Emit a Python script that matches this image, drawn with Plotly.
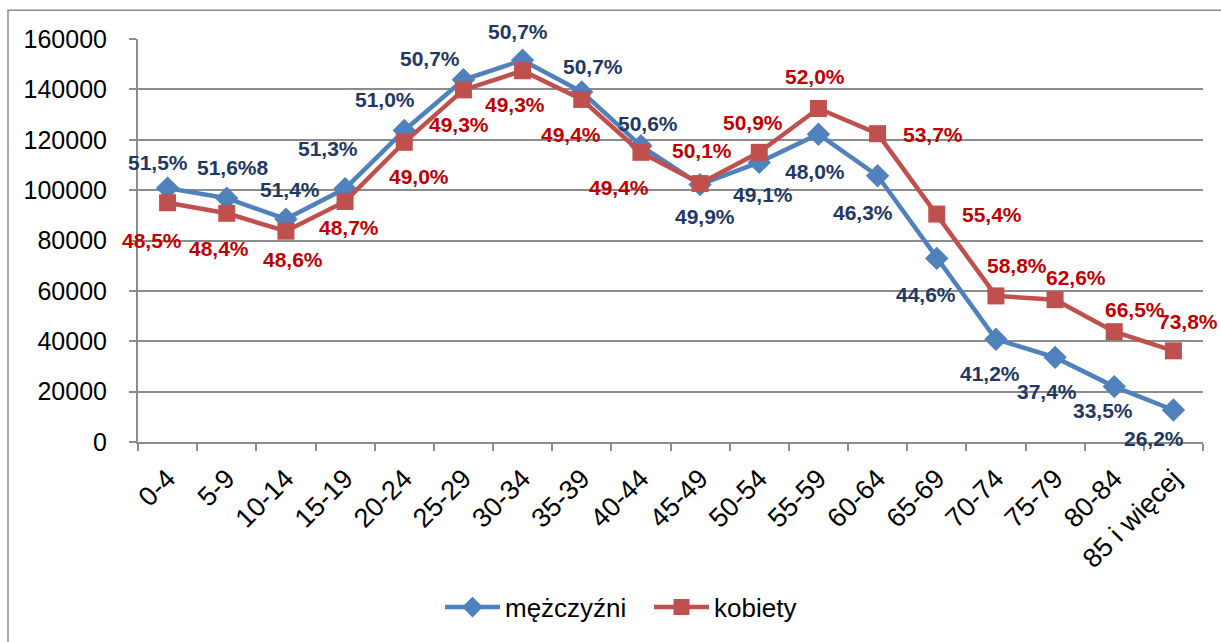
import plotly.graph_objects as go

categories = ["0-4", "5-9", "10-14", "15-19", "20-24", "25-29", "30-34", "35-39",
              "40-44", "45-49", "50-54", "55-59", "60-64", "65-69", "70-74",
              "75-79", "80-84", "85 i więcej"]
men = [100800, 96800, 88500, 100600, 123700, 143800, 151600, 139000, 117600,
       102200, 111000, 122200, 105700, 72900, 40800, 33600, 22000, 12700]
women = [95000, 90800, 83700, 95500, 119000, 139800, 147400, 136000, 115000,
         102600, 115000, 132400, 122400, 90500, 58000, 56500, 43800, 36200]
men_labels = ["51,5%", "51,6%8", "51,4%", "51,3%", "51,0%", "50,7%", "50,7%", "50,7%",
              "50,6%", "49,9%", "49,1%", "48,0%", "46,3%", "44,6%", "41,2%",
              "37,4%", "33,5%", "26,2%"]
women_labels = ["48,5%", "48,4%", "48,6%", "48,7%", "49,0%", "49,3%", "49,3%", "49,4%",
                "49,4%", "50,1%", "50,9%", "52,0%", "53,7%", "55,4%", "58,8%",
                "62,6%", "66,5%", "73,8%"]
y_ticks = [0, 20000, 40000, 60000, 80000, 100000, 120000, 140000, 160000]

# label offsets in screen pixels (dx right, dy down)
men_off = [(-10, -26), (6, -31), (4, -30), (-17, -40), (-19, -31), (-33, -21),
           (-5, -29), (11, -25), (7, -22), (5, 32), (4, 32), (-3, 37),
           (-15, 37), (-11, 36), (-6, 34), (-8, 34), (-11, 24), (-19, 28)]
women_off = [(-16, 38), (-8, 35), (7, 28), (4, 26), (15, 34), (-4, 35),
             (-8, 34), (-11, 35), (-22, 35), (2, -33), (-6, -30), (-3, -32),
             (55, 1), (55, 0), (21, -30), (21, -22), (21, -22), (15, -29)]

BLUE = "#4F81BD"
RED = "#C0504D"
BLUE_TXT = "#1F3864"
RED_TXT = "#C00000"
GRID = "#8C8C8C"
FONT = "Arial, Liberation Sans, sans-serif"

fig = go.Figure()
fig.add_trace(go.Scatter(x=categories, y=men, name="mężczyźni", mode="lines+markers",
                         line=dict(color=BLUE, width=4.5),
                         marker=dict(symbol="diamond", size=18, color=BLUE)))
fig.add_trace(go.Scatter(x=categories, y=women, name="kobiety", mode="lines+markers",
                         line=dict(color=RED, width=4.5),
                         marker=dict(symbol="square", size=17, color=RED)))

annotations = []
for c, v, t, (dx, dy) in zip(categories, men, men_labels, men_off):
    annotations.append(dict(x=c, y=v, xref="x", yref="y", text=t, showarrow=False,
                            xshift=dx, yshift=-dy,
                            font=dict(family=FONT, size=21, color=BLUE_TXT, weight="bold")))
for c, v, t, (dx, dy) in zip(categories, women, women_labels, women_off):
    annotations.append(dict(x=c, y=v, xref="x", yref="y", text=t, showarrow=False,
                            xshift=dx, yshift=-dy,
                            font=dict(family=FONT, size=21, color=RED_TXT, weight="bold")))

W, H = 1221, 642
L, R, T, B = 138, 18, 39, 198
pw, ph = W - L - R, H - T - B

def px(x):
    return (x - L) / pw

def py(y):
    return (H - B - y) / ph

fig.update_layout(
    width=W, height=H,
    margin=dict(l=L, r=R, t=T, b=B),
    paper_bgcolor="white", plot_bgcolor="white",
    font=dict(family=FONT, color="black"),
    showlegend=True,
    legend=dict(orientation="h", x=px(440), y=py(610), xanchor="left", yanchor="middle",
                font=dict(size=26, family=FONT, color="black"), itemwidth=55,
                entrywidth=139, bgcolor="rgba(0,0,0,0)"),
    annotations=annotations,
    shapes=[dict(type="rect", xref="paper", yref="paper",
                 x0=px(8), x1=px(1235), y0=py(10), y1=py(660),
                 line=dict(color=GRID, width=1.5), layer="below")],
)
fig.update_xaxes(type="category", range=[-0.5, len(categories) - 0.5],
                 tickson="boundaries", ticks="outside", ticklen=7, tickcolor=GRID,
                 tickwidth=1.5, showline=True, linecolor=GRID, linewidth=2,
                 showgrid=False, tickangle=-45, ticklabelstandoff=8,
                 tickfont=dict(size=27, family=FONT, color="black"))
fig.update_yaxes(range=[0, 160000], tickvals=y_ticks, ticktext=[str(v) for v in y_ticks],
                 ticks="outside", ticklen=7, tickcolor=GRID, tickwidth=1.5,
                 showline=True, linecolor=GRID, linewidth=2,
                 showgrid=True, gridcolor=GRID, gridwidth=1.5, zeroline=False,
                 ticklabelstandoff=17,
                 tickfont=dict(size=25, family=FONT, color="black"))

fig.write_html("out.html", config={"displayModeBar": False},
               post_script="document.body.style.margin='0';document.body.style.overflow='hidden';")
